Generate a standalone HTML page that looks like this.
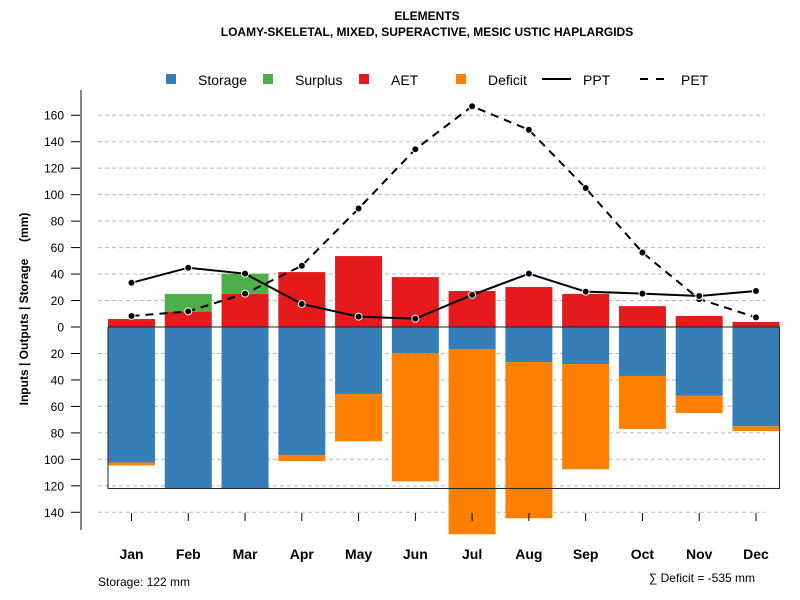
<!DOCTYPE html>
<html><head><meta charset="utf-8"><style>
body{margin:0;background:#fff;}
svg{font-family:"Liberation Sans",Arial,sans-serif;display:block}
</style></head><body>
<svg id="chart" width="800" height="600">
<text x="427" y="20" text-anchor="middle" font-weight="bold" font-size="12">ELEMENTS</text>
<text x="427" y="36" text-anchor="middle" font-weight="bold" font-size="12">LOAMY-SKELETAL, MIXED, SUPERACTIVE, MESIC USTIC HAPLARGIDS</text>
<g font-size="14">
<rect x="166" y="74" width="10" height="10" fill="#377eb8"/>
<text x="198" y="85">Storage</text>
<rect x="263" y="74" width="10" height="10" fill="#4daf4a"/>
<text x="295" y="85">Surplus</text>
<rect x="359" y="74" width="10" height="10" fill="#e41a1c"/>
<text x="391" y="85">AET</text>
<rect x="456" y="74" width="10" height="10" fill="#ff7f00"/>
<text x="488" y="85">Deficit</text>
<line x1="542" y1="79" x2="571" y2="79" stroke="#000" stroke-width="2"/>
<text x="583" y="85">PPT</text>
<line x1="640" y1="79" x2="664" y2="79" stroke="#000" stroke-width="2" stroke-dasharray="8,8"/>
<text x="681" y="85">PET</text>
</g>
<text transform="translate(28,309) rotate(-90)" text-anchor="middle" font-weight="bold" font-size="12" style="white-space:pre">Inputs | Outputs | Storage     (mm)</text>
<text x="98" y="586" font-size="12">Storage: 122 mm</text>
<text x="755" y="582" text-anchor="end" font-size="12">∑ Deficit = -535 mm</text>
<g id="plot"></g>
</svg>
<script>
const months=["Jan","Feb","Mar","Apr","May","Jun","Jul","Aug","Sep","Oct","Nov","Dec"];
const aet=[6,11.6,25,41.5,53.6,37.7,27.2,30.2,25,15.8,8.3,3.8];
const surplus=[0,13.4,15.3,0,0,0,0,0,0,0,0,0];
const storage=[102.4,122,122,96.8,50.6,19.9,16.9,26.5,28,37,52,75];
const deficit=[2.2,0,0,4.5,35.7,96.7,139.7,118,79.5,40,13,3.6];
const ppt=[33.4,44.8,40.3,17.4,7.8,6.3,24.2,40.3,26.7,25.2,23.4,27.2];
const pet=[8.3,11.8,25.2,46.3,89.5,134.3,166.8,149,105,56.3,21.1,7.3];
const yTicks=[160,140,120,100,80,60,40,20,0,20,40,60,80,100,120,140];
const yTickVals=[160,140,120,100,80,60,40,20,0,-20,-40,-60,-80,-100,-120,-140];
const storageCap=122;

const NS="http://www.w3.org/2000/svg";
const g=document.getElementById('plot');
const y=v=>327-v*1.3235;
const x=i=>131.5+i*56.77;
const bw=47;
function mk(tag,attrs){const e=document.createElementNS(NS,tag);for(const k in attrs)e.setAttribute(k,attrs[k]);g.appendChild(e);return e;}
yTickVals.forEach((v,i)=>{
  if(v!==0){const l=mk('line',{x1:98,x2:765,y1:y(v),y2:y(v),stroke:'#bbb','stroke-dasharray':'4,3'});
  
  }
  const t=mk('line',{x1:71,x2:80,y1:y(v),y2:y(v),stroke:'#000'});
  
  
  const tx=mk('text',{x:64,y:y(v)+4.5,'text-anchor':'end','font-size':12});
  tx.textContent=yTicks[i];
  
  
});
const ax=mk('line',{x1:81,x2:81,y1:90,y2:530,stroke:'#888','stroke-width':2});


months.forEach((m,i)=>{
  const cx=x(i);
  let r;
  r=mk('rect',{x:cx-bw/2,y:y(aet[i]),width:bw,height:y(0)-y(aet[i]),fill:'#e41a1c'});
  
  
  if(surplus[i]>0){r=mk('rect',{x:cx-bw/2,y:y(aet[i]+surplus[i]),width:bw,height:y(aet[i])-y(aet[i]+surplus[i]),fill:'#4daf4a'});
  
  }
  r=mk('rect',{x:cx-bw/2,y:y(0),width:bw,height:y(-storage[i])-y(0),fill:'#377eb8'});
  
  
  if(deficit[i]>0){r=mk('rect',{x:cx-bw/2,y:y(-storage[i]),width:bw,height:y(-storage[i]-deficit[i])-y(-storage[i]),fill:'#ff7f00'});
  
  }
  const t=mk('line',{x1:cx,x2:cx,y1:513,y2:521,stroke:'#000'});
  
  
  const tx=mk('text',{x:cx,y:559,'text-anchor':'middle','font-size':14,'font-weight':'bold'});
  tx.textContent=m;
  
  
});
const box=mk('rect',{x:x(0)-bw/2,y:y(0),width:x(11)-x(0)+bw,height:y(-storageCap)-y(0),fill:'none',stroke:'#222','stroke-width':1});


function series(vals,name,dash){
  const p=mk('polyline',{points:vals.map((v,i)=>x(i)+','+y(v)).join(' '),fill:'none',stroke:'#000','stroke-width':2,'stroke-dasharray':dash});
  
  
  vals.forEach((v,i)=>{const c=mk('circle',{cx:x(i),cy:y(v),r:3.5,fill:'#000',stroke:'#fff','stroke-width':1});
  
  });
}
series(pet,'pet','8,6');
series(ppt,'ppt','none');
</script>
</body></html>
